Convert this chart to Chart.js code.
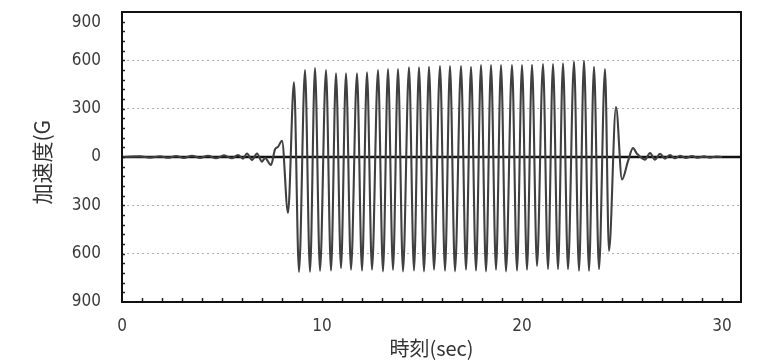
<!DOCTYPE html>
<html><head><meta charset="utf-8">
<script src="https://cdn.jsdelivr.net/npm/chart.js@4.4.0/dist/chart.umd.min.js"></script>
<style>html,body{margin:0;padding:0;background:#fff;}canvas{display:block;}</style>
</head><body>
<canvas id="c" width="762" height="360"></canvas>
<script>
// time (sec)
const timeSec = [
  0, 0.9, 1.4, 1.9, 2.3, 2.7, 3.1, 3.5, 3.9, 4.3, 4.7, 5.1, 5.5, 5.8, 6.05, 6.25, 6.5, 6.75, 7.0, 7.15, 7.45, 7.65, 7.8, 8.0,
  8.3, 8.6, 8.85, 9.15, 9.4, 9.65, 9.9, 10.2, 10.45, 10.7, 10.95, 11.2, 11.45, 11.75, 12.0, 12.25, 12.5, 12.8, 13.05, 13.3,
  13.55, 13.8, 14.05, 14.35, 14.6, 14.85, 15.1, 15.35, 15.6, 15.9, 16.15, 16.4, 16.65, 16.95, 17.2, 17.45, 17.7, 17.95,
  18.2, 18.45, 18.7, 18.95, 19.2, 19.5, 19.75, 20.0, 20.25, 20.5, 20.75, 21.05, 21.3, 21.55, 21.8, 22.05, 22.3, 22.6,
  22.85, 23.1, 23.35, 23.6, 23.85, 24.15, 24.35, 24.7, 25.0, 25.3, 25.55, 25.75, 26.15, 26.4, 26.65, 26.9, 27.15, 27.4,
  27.65, 27.9, 28.2, 28.5, 28.8, 29.1, 29.4, 29.7, 30.0
];
// acceleration (G)
const accelG = [
  0, 4, -4, 5, -5, 6, -6, 8, -6, 8, -8, 10, -8, 12, -10, 22, -18, 22, -29, -6, -50, 47, 63, 100,
  -347, 464, -713, 540, -713, 552, -706, 540, -705, 520, -690, 519, -700, 519, -705, 525, -700, 540, -710, 546,
  -700, 546, -710, 556, -705, 556, -710, 560, -700, 564, -705, 564, -710, 564, -700, 560, -705, 570,
  -710, 570, -700, 570, -710, 570, -705, 570, -700, 573, -676, 577, -696, 577, -696, 581, -696, 593,
  -706, 597, -706, 560, -696, 546, -583, 310, -140, -26, 55, 20, -16, 25, -16, 20, -10, 12,
  -8, 8, -6, 6, -5, 4, -4, 3, 0
];
const xTickLabels = [0, 10, 20, 30];
const yTickValues = [-900, -600, -300, 0, 300, 600, 900];

const points = timeSec.map((t, i) => ({x: t, y: accelG[i]}));

const framePlugin = {
  id: 'framePlugin',
  beforeDatasetsDraw(chart) {
    const {ctx, chartArea: a, scales: {y}} = chart;
    const y0 = y.getPixelForValue(0);
    ctx.save();
    ctx.strokeStyle = '#111';
    ctx.lineWidth = 2.5;
    ctx.beginPath(); ctx.moveTo(a.left, y0); ctx.lineTo(a.right, y0); ctx.stroke();
    ctx.restore();
  },
  afterDraw(chart) {
    const {ctx, chartArea: a, scales: {x, y}} = chart;
    ctx.save();
    ctx.strokeStyle = '#222';
    ctx.lineWidth = 1.5;
    ctx.beginPath();
    for (let i = 1; i <= 30; i++) {
      const px = Math.round(x.getPixelForValue(i)) + 0.5;
      ctx.moveTo(px, a.bottom); ctx.lineTo(px, a.bottom - 4);
    }
    for (let v = -840; v < 900; v += 60) {
      const py = Math.round(y.getPixelForValue(v)) + 0.5;
      ctx.moveTo(a.left, py); ctx.lineTo(a.left + 3, py);
    }
    ctx.stroke();
    ctx.strokeStyle = '#111';
    ctx.lineWidth = 2;
    ctx.strokeRect(a.left, a.top, a.right - a.left, a.bottom - a.top);
    ctx.restore();
  }
};

const tickFont = {family: "'Liberation Sans Narrow', 'DejaVu Sans Condensed', 'Liberation Sans', sans-serif", size: 17};
const titleFont = {family: "'Noto Sans CJK JP', 'Noto Sans', sans-serif", size: 21};

new Chart(document.getElementById('c'), {
  type: 'line',
  data: {
    datasets: [{
      data: points,
      borderColor: '#404040',
      borderWidth: 2.1,
      pointRadius: 0,
      cubicInterpolationMode: 'monotone',
      fill: false
    }]
  },
  options: {
    responsive: false,
    animation: false,
    devicePixelRatio: 1,
    parsing: false,
    layout: {padding: {left: 0, right: 21, top: 12, bottom: 0}},
    plugins: {legend: {display: false}, tooltip: {enabled: false}},
    scales: {
      x: {
        type: 'linear',
        min: 0, max: 30.95,
        afterFit: s => { s.height = 58; s.paddingLeft = 0; s.paddingRight = 0; },
        afterBuildTicks: s => { s.ticks = xTickLabels.map(v => ({value: v})); },
        ticks: {padding: 14, color: '#3a3a3a', font: tickFont, maxRotation: 0, autoSkip: false},
        grid: {display: false, drawTicks: false},
        border: {display: false},
        title: {display: true, text: '時刻(sec)', color: '#333', font: {family: titleFont.family, size: 20}, padding: {top: 0, bottom: 0}}
      },
      y: {
        type: 'linear',
        min: -900, max: 900,
        afterFit: s => { s.width = 122; s.paddingTop = 0; s.paddingBottom = 0; },
        afterBuildTicks: s => { s.ticks = yTickValues.map(v => ({value: v})); },
        ticks: {padding: 21, color: '#3a3a3a', font: tickFont,
          callback: v => v === 900 ? ['', '900'] : String(Math.abs(v))},
        grid: {
          drawTicks: false,
          lineWidth: 1,
          color: c => (Math.abs(c.tick.value) === 300 || Math.abs(c.tick.value) === 600) ? '#b0b0b0' : 'rgba(0,0,0,0)'
        },
        border: {display: false, dash: [2, 3]},
        title: {display: true, text: '加速度(G\u2002', color: '#333', font: titleFont, padding: {top: 29, bottom: 0}}
      }
    }
  },
  plugins: [framePlugin]
});
</script>
</body></html>
